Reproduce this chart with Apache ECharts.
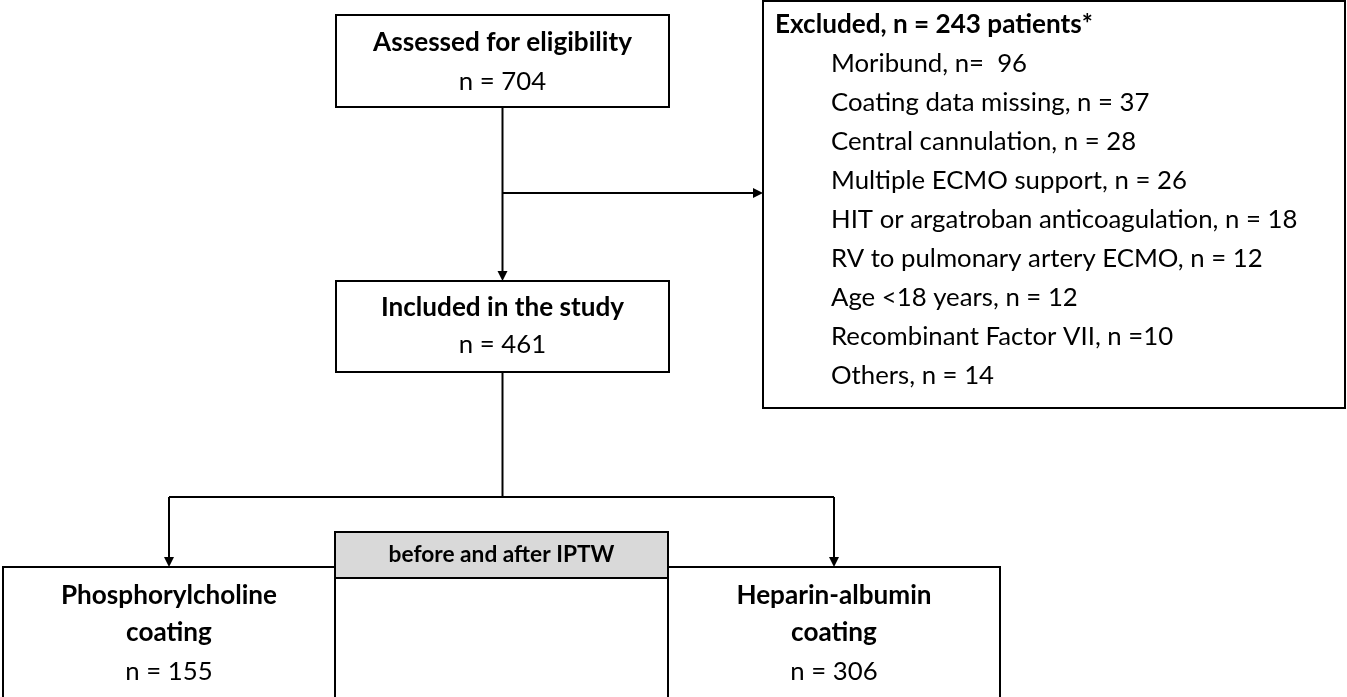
<!DOCTYPE html>
<html>
<head>
<meta charset="utf-8">
<script src="https://cdn.jsdelivr.net/npm/echarts@6/dist/echarts.min.js"></script>
<style>html,body{margin:0;padding:0;background:#fff;}#chart{width:1347px;height:697px;}</style>
</head>
<body>
<div id="chart"></div>
<script>
// ---- data ----
const boxTitles = ['Assessed for eligibility', 'Included in the study', 'Phosphorylcholine\ncoating', 'Heparin-albumin\ncoating'];
const boxCounts = [704, 461, 155, 306];
const excludedTotal = 243;
const exclusionReasons = ['Moribund', 'Coating data missing', 'Central cannulation', 'Multiple ECMO support',
  'HIT or argatroban anticoagulation', 'RV to pulmonary artery ECMO', 'Age <18 years', 'Recombinant Factor VII', 'Others'];
const exclusionSeparators = [', n=  ', ', n = ', ', n = ', ', n = ', ', n = ', ', n = ', ', n = ', ', n =', ', n = '];
const exclusionCounts = [96, 37, 28, 26, 18, 12, 12, 10, 14];
const weightingLabel = 'before and after IPTW';

// ---- layout (pixel space of the hidden axes) ----
const FONT = 'Lato';
const boxLayout = [
  {x0: 336, x1: 669, y0: 15, y1: 107, lines: [43, 82]},
  {x0: 336, x1: 669, y0: 281, y1: 372, lines: [308, 345]},
  {x0: 3, x1: 335, y0: 567, y1: 720, lines: [596, 633, 672]},
  {x0: 668, x1: 1000, y0: 567, y1: 720, lines: [596, 633, 672]}
];
const excludedLayout = {x0: 763, x1: 1345, y0: 1, y1: 408, titleX: 775, itemX: 831, firstY: 25, step: 39};
const iptwLayout = {x0: 335, x1: 668, y0: 532, y1: 578, textY: 555, bottomY: 720};
const sideArrowY = 193, branchY = 497;

const cv = document.createElement('canvas').getContext('2d');
function fitSize(text, weight, target) {
  cv.font = weight + ' 100px ' + FONT;
  return 100 * target / cv.measureText(text).width;
}
const normalSize = fitSize('Multiple ECMO support, n = 26', 'normal', 356);
const boldSize = fitSize('Assessed for eligibility', 'bold', 259);
const smallBoldSize = fitSize(weightingLabel, 'bold', 226);

const chart = echarts.init(document.getElementById('chart'), null, {renderer: 'canvas'});

function txt(api, x, y, text, size, weight, align) {
  const p = api.coord([x, y]);
  return {type: 'text', style: {text: text, x: p[0], y: p[1], fontFamily: FONT, fontSize: size,
    fontWeight: weight, fill: '#000', align: align || 'center', verticalAlign: 'middle'}};
}
function rect(api, b, fill) {
  const a = api.coord([b.x0, b.y0]), c = api.coord([b.x1, b.y1]);
  return {type: 'rect', shape: {x: a[0], y: a[1], width: c[0] - a[0], height: c[1] - a[1]},
    style: {fill: fill || '#fff', stroke: '#000', lineWidth: 2}};
}
function line(api, x1, y1, x2, y2) {
  const a = api.coord([x1, y1]), b = api.coord([x2, y2]);
  return {type: 'line', shape: {x1: a[0], y1: a[1], x2: b[0], y2: b[1]}, style: {stroke: '#000', lineWidth: 2}};
}
function arrow(api, x1, y1, x2, y2) {
  const a = api.coord([x1, y1]), b = api.coord([x2, y2]);
  const dx = b[0] - a[0], dy = b[1] - a[1], L = Math.hypot(dx, dy);
  const ux = dx / L, uy = dy / L, hl = 10, hw = 5;
  const bx = b[0] - ux * hl, by = b[1] - uy * hl;
  return [
    {type: 'line', shape: {x1: a[0], y1: a[1], x2: bx, y2: by}, style: {stroke: '#000', lineWidth: 2}},
    {type: 'polygon', shape: {points: [[b[0], b[1]], [bx - uy * hw, by + ux * hw], [bx + uy * hw, by - ux * hw]]},
      style: {fill: '#000'}}
  ];
}

const boxData = boxTitles.map((t, i) => [i, boxCounts[i]]);
const exclData = exclusionReasons.map((r, i) => [i, exclusionCounts[i]]);

const option = {
  animation: false,
  grid: {left: 0, right: 0, top: 0, bottom: 0},
  xAxis: {type: 'value', min: 0, max: 1347, show: false},
  yAxis: {type: 'value', min: 0, max: 697, inverse: true, show: false},
  series: [
    { // connectors
      type: 'custom', clip: false, z: 1,
      data: [[0]],
      renderItem: function (params, api) {
        const A = boxLayout[0], I = boxLayout[1], P = boxLayout[2], H = boxLayout[3];
        const cx = (A.x0 + A.x1) / 2, pcx = (P.x0 + P.x1) / 2, hcx = (H.x0 + H.x1) / 2;
        const kids = [].concat(
          arrow(api, cx, A.y1, cx, I.y0),
          arrow(api, cx, sideArrowY, excludedLayout.x0, sideArrowY),
          [line(api, cx, I.y1, cx, branchY), line(api, pcx, branchY, hcx, branchY)],
          arrow(api, pcx, branchY, pcx, P.y0),
          arrow(api, hcx, branchY, hcx, H.y0)
        );
        return {type: 'group', children: kids};
      }
    },
    { // main boxes
      type: 'custom', clip: false, z: 2,
      data: boxData,
      renderItem: function (params, api) {
        const i = api.value(0), b = boxLayout[i];
        const cx = (b.x0 + b.x1) / 2;
        const parts = boxTitles[i].split('\n');
        const kids = [rect(api, b)];
        parts.forEach((p, k) => kids.push(txt(api, cx, b.lines[k], p, boldSize, 'bold')));
        kids.push(txt(api, cx, b.lines[parts.length], 'n = ' + api.value(1), normalSize, 'normal'));
        return {type: 'group', children: kids};
      }
    },
    { // IPTW box
      type: 'custom', clip: false, z: 2,
      data: [[0]],
      renderItem: function (params, api) {
        const g = iptwLayout;
        return {type: 'group', children: [
          rect(api, {x0: g.x0, x1: g.x1, y0: g.y1, y1: g.bottomY}),
          rect(api, g, '#d9d9d9'),
          txt(api, (g.x0 + g.x1) / 2, g.textY, weightingLabel, smallBoldSize, 'bold')
        ]};
      }
    },
    { // excluded box frame + title
      type: 'custom', clip: false, z: 2,
      data: [[excludedTotal]],
      renderItem: function (params, api) {
        const e = excludedLayout;
        return {type: 'group', children: [
          rect(api, e),
          txt(api, e.titleX, e.firstY, 'Excluded, n = ' + api.value(0) + ' patients*', boldSize, 'bold', 'left')
        ]};
      }
    },
    { // exclusion reasons
      type: 'custom', clip: false, z: 3,
      data: exclData,
      renderItem: function (params, api) {
        const i = api.value(0), e = excludedLayout;
        return txt(api, e.itemX, e.firstY + e.step * (i + 1),
          exclusionReasons[i] + exclusionSeparators[i] + api.value(1), normalSize, 'normal', 'left');
      }
    }
  ]
};
chart.setOption(option);
</script>
</body>
</html>
